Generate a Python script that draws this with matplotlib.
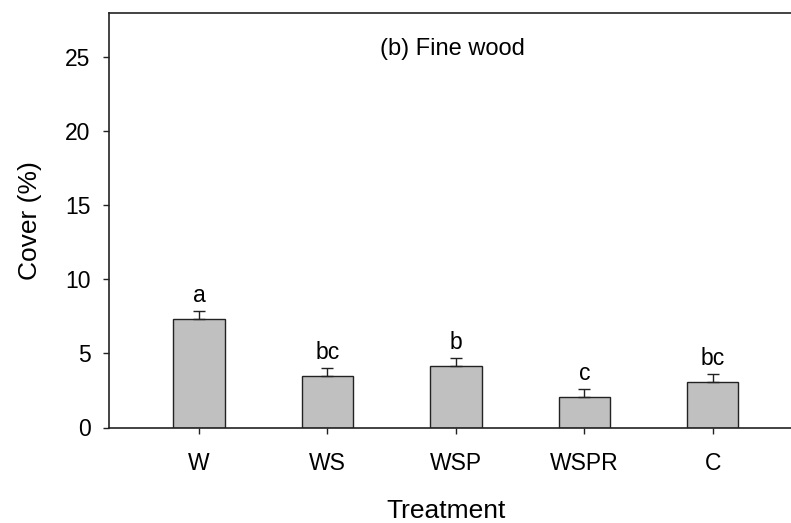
import matplotlib
matplotlib.use("Agg")
import matplotlib.pyplot as plt
import numpy as np

plt.rcParams['font.family'] = ['Liberation Sans', 'DejaVu Sans']

categories = ["W", "WS", "WSP", "WSPR", "C"]
cover = [7.3, 3.5, 4.17, 2.05, 3.1]
se = [0.56, 0.54, 0.51, 0.54, 0.54]
letters = ["a", "bc", "b", "c", "bc"]
yticks = [0, 5, 10, 15, 20, 25]

fig = plt.figure(figsize=(7.91, 5.23), dpi=100)
ax = fig.add_axes([108.5 / 791, 1 - 427.5 / 523, 1 - 108.5 / 791, (427.5 - 12.7) / 523])

x = np.arange(len(categories))
ax.bar(x, cover, width=0.40, color="#c0c0c0", edgecolor="#222222", linewidth=1.0, zorder=2)
ax.errorbar(x, cover, yerr=[np.zeros(len(se)), se], fmt="none", ecolor="#222222",
            elinewidth=1.0, capsize=4.3, capthick=1.0, zorder=3)
for xi, v, e, l in zip(x, cover, se, letters):
    ax.annotate(l, (xi, v + e), xytext=(0, 6.5), textcoords="offset points",
                ha="center", va="baseline", fontsize=16.5)

ax.set_xlim(-0.705, 4.61)
ax.set_ylim(0, 28)
ax.set_xticks(x)
ax.set_xticklabels(categories)
ax.set_yticks(yticks)
ax.tick_params(axis="both", direction="out", labelsize=16.5, width=1.0, color="#222222")
ax.tick_params(axis="y", length=4, pad=9)
ax.tick_params(axis="x", length=4, pad=13.5)
for s in ["left", "top", "bottom"]:
    ax.spines[s].set_linewidth(1.2)
    ax.spines[s].set_color("#222222")
ax.spines["right"].set_visible(False)

ax.set_xlabel("Treatment", fontsize=19)
ax.set_ylabel("Cover (%)", fontsize=19)
ax.xaxis.set_label_coords(0.495, -0.172)
ax.yaxis.set_label_coords(-0.097, 0.5)

ax.text(0.504, 0.897, "(b) Fine wood", transform=ax.transAxes, ha="center",
        va="baseline", fontsize=17)

fig.savefig("out.png", dpi=100)
